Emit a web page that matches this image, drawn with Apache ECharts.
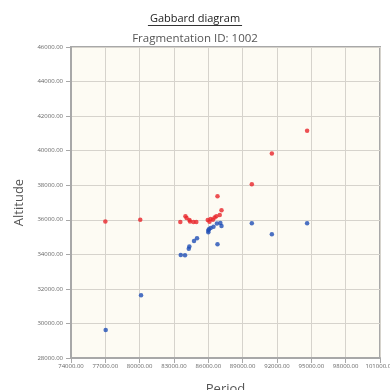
<!DOCTYPE html>
<html><head><meta charset="utf-8">
<script src="https://cdn.jsdelivr.net/npm/echarts@6/dist/echarts.min.js"></script>
<style>html,body{margin:0;padding:0;background:#fff}#c{width:390px;height:390px}</style>
</head><body><div id="c"></div>
<script>
const redPeriod = [77000, 80050, 83550, 84000, 84100, 84350, 84400, 84700, 84950, 85950, 86100, 86200, 86400, 86550, 86700, 87000, 87150, 86800, 89800, 91550, 94630];
const redAlt    = [35900, 36000, 35870, 36200, 36100, 35980, 35900, 35870, 35870, 35980, 35880, 36050, 36000, 36130, 36200, 36270, 36550, 37360, 38050, 39830, 41150];
const bluePeriod = [77030, 80120, 83590, 83960, 84290, 84340, 84750, 85010, 86000, 86000, 86050, 86200, 86450, 86750, 87050, 87150, 86800, 89800, 91550, 94630];
const blueAlt    = [29620, 31630, 33960, 33940, 34330, 34450, 34770, 34930, 35280, 35380, 35450, 35520, 35600, 35780, 35820, 35640, 34580, 35800, 35160, 35800];
const xMin = 74000, xMax = 101000, xStep = 3000;
const yMin = 28000, yMax = 46000, yStep = 2000;

const pairs = (a, b) => a.map((v, i) => [v, b[i]]);
const fam = '"Open Sans", "DejaVu Sans", sans-serif';
const titleText = 'Gabbard diagram';
const ctx = document.createElement('canvas').getContext('2d');
ctx.font = '11px ' + fam;
const tw = ctx.measureText(titleText).width;

const chart = echarts.init(document.getElementById('c'));
chart.setOption({
  backgroundColor: '#ffffff',
  animation: false,
  title: [
    {text: titleText, left: 'center', top: 8, textStyle: {fontSize: 11, fontWeight: 'normal', color: '#222', fontFamily: fam}},
    {text: 'Fragmentation ID: 1002', left: 'center', top: 28, textStyle: {fontSize: 11.5, fontWeight: 'normal', color: '#555', fontFamily: fam}}
  ],
  graphic: [{type: 'line', shape: {x1: 195 - tw / 2 - 2, y1: 25.5, x2: 195 + tw / 2 + 2, y2: 25.5}, style: {stroke: '#333', lineWidth: 1}}],
  grid: {left: 71, right: 10, top: 47, bottom: 32, containLabel: false, outerBoundsMode: 'none', show: true, backgroundColor: '#fdfbf3', borderColor: '#a8a8a8', borderWidth: 2},
  xAxis: {
    type: 'value', min: xMin, max: xMax, interval: xStep,
    name: 'Period', nameLocation: 'middle', nameGap: 25,
    nameTextStyle: {fontSize: 13, color: '#555', fontFamily: fam},
    axisLine: {show: true, onZero: false, lineStyle: {color: '#a8a8a8', width: 2}},
    axisTick: {show: true, length: 5, lineStyle: {color: '#a8a8a8'}},
    axisLabel: {fontSize: 6, color: '#666', margin: 5, fontFamily: fam, hideOverlap: false, formatter: v => v.toFixed(2)},
    splitLine: {show: true, lineStyle: {color: '#d6d3cc', width: 1}}
  },
  yAxis: {
    type: 'value', min: yMin, max: yMax, interval: yStep,
    name: 'Altitude', nameLocation: 'middle', nameGap: 45,
    nameTextStyle: {fontSize: 13, color: '#555', fontFamily: fam},
    axisLine: {show: true, onZero: false, lineStyle: {color: '#a8a8a8', width: 2}},
    axisTick: {show: true, length: 5, lineStyle: {color: '#a8a8a8'}},
    axisLabel: {fontSize: 6, color: '#666', margin: 8, fontFamily: fam, formatter: v => v.toFixed(2)},
    splitLine: {show: true, lineStyle: {color: '#d6d3cc', width: 1}}
  },
  series: [
    {type: 'scatter', data: pairs(bluePeriod, blueAlt), symbolSize: 4.5, itemStyle: {color: '#1f4fb5'}},
    {type: 'scatter', data: pairs(redPeriod, redAlt), symbolSize: 4.5, itemStyle: {color: '#e8262b'}}
  ]
});
</script></body></html>
